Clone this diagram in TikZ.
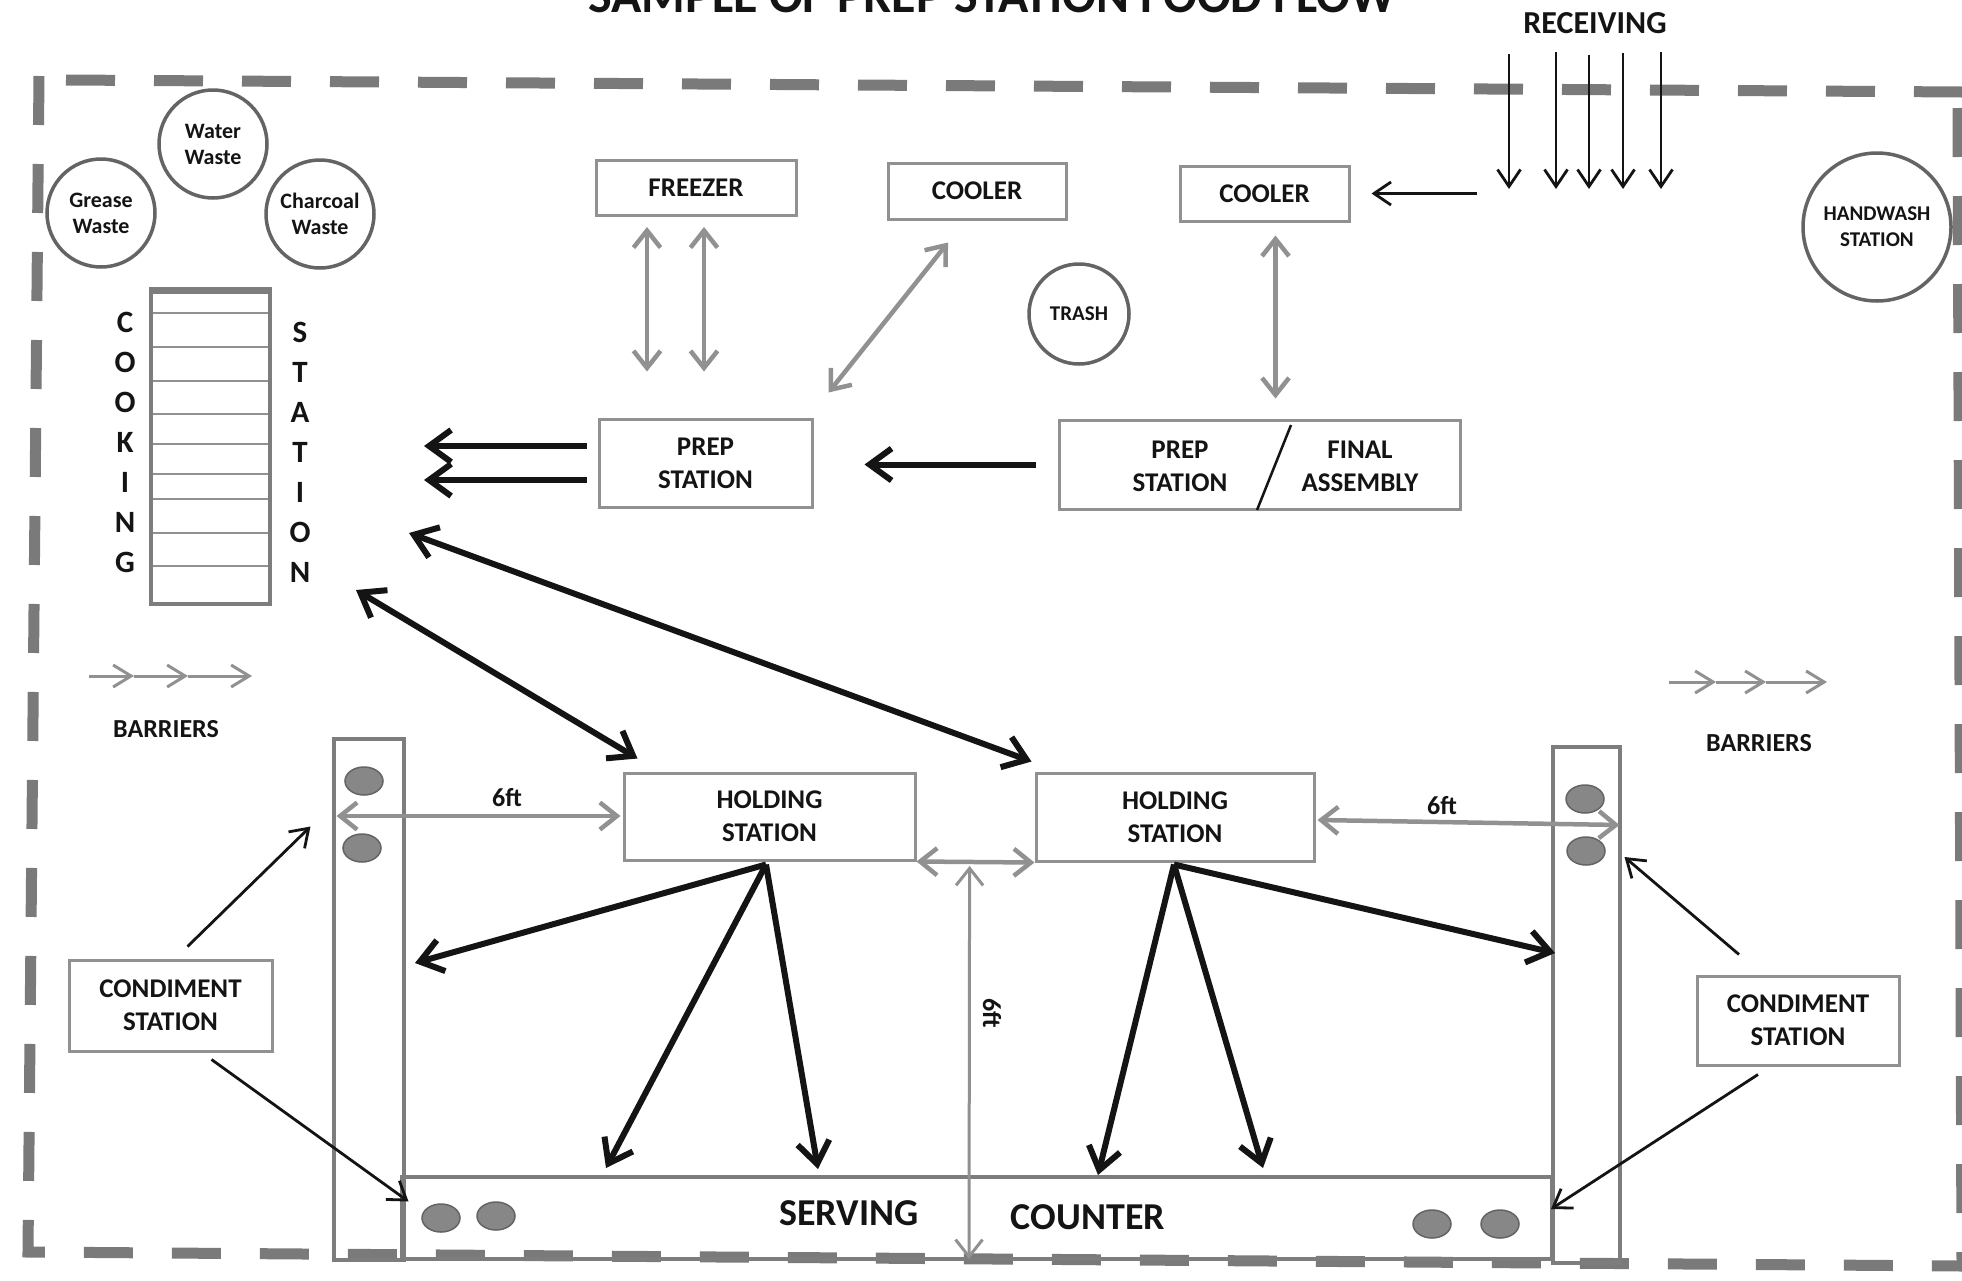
\documentclass[tikz,border=0pt]{standalone}
\usepackage{fontspec}
\setmainfont{Carlito}
\usetikzlibrary{arrows.meta,calc,shapes.geometric}
\definecolor{boxgray}{RGB}{145,145,145}
\definecolor{bargray}{RGB}{125,125,125}
\definecolor{circgray}{RGB}{100,100,100}
\definecolor{dashgray}{RGB}{122,122,122}
\definecolor{arrgray}{RGB}{145,145,145}
\definecolor{dotfill}{RGB}{135,135,135}
\definecolor{dotline}{RGB}{100,100,100}
\definecolor{ink}{RGB}{20,20,20}
\newcommand{\fz}[2]{\fontsize{#1}{#2}\selectfont\bfseries}
\begin{document}
\begin{tikzpicture}[x=1pt,y=-1pt,
  every node/.style={text=ink},
  box/.style={draw=boxgray, line width=3pt, inner sep=0pt, align=center, font=\fz{27}{33}},
  bubble/.style={draw=circgray, circle, line width=3.5pt, inner sep=0pt, align=center},
  lbl/.style={inner sep=0pt, align=center},
  border/.style={draw=dashgray, line width=11pt, dash pattern=on 49pt off 39pt},
  bar/.style={draw=bargray, line width=4pt, inner sep=0pt},
  dot/.style={ellipse, draw=dotline, fill=dotfill, line width=1.5pt, minimum width=38pt, minimum height=28pt, inner sep=0pt},
  garr/.style={draw=arrgray, line width=4.5pt, {Straight Barb[length=17pt,width=27pt]}-{Straight Barb[length=17pt,width=27pt]}},
  flow/.style={draw=ink, line width=6pt, -{Straight Barb[length=22pt,width=32pt]}},
  flowtwo/.style={draw=ink, line width=6pt, {Straight Barb[length=22pt,width=32pt]}-{Straight Barb[length=22pt,width=32pt]}},
  tarr/.style={draw=ink, line width=2.8pt, -{Straight Barb[length=17pt,width=23pt]}},
  barrier/.style={draw=arrgray, line width=3pt, -{Straight Barb[length=18pt,width=22pt]}},
]
\fill[white] (0,0) rectangle (1962,1280);
\useasboundingbox (0,0) rectangle (1962,1280);

% border
\draw[border, line join=miter] (39,76) -- (28,1252) -- (1962,1266);
\draw[border] (66,80) -- (1962,92);
\draw[border] (1958,108) -- (1962,1266);

% titles
\node[lbl, anchor=base, font=\fz{50}{50}] (title) at (992,12) {SAMPLE OF PREP STATION FOOD FLOW};
\node[lbl, anchor=base, font=\fz{32}{32}] (recv) at (1595,33) {RECEIVING};

% waste circles
\node[bubble, minimum size=108pt, font=\fz{22}{26}] (water) at (213,144) {Water\\Waste};
\node[bubble, minimum size=108pt, font=\fz{22}{26}] (grease) at (101,213) {Grease\\Waste};
\node[bubble, minimum size=108pt, font=\fz{22}{26}] (charcoal) at (320,214) {Charcoal\\Waste};
\node[bubble, minimum size=100pt, font=\fz{21}{26}] (trash) at (1079,314) {TRASH};
\node[bubble, minimum size=148pt, font=\fz{21}{26}] (hand) at (1877,227) {HANDWASH\\STATION};

% cooking station
\node[bar, minimum width=119pt, minimum height=312pt] (cook) at (210.5,448) {};
\foreach \yy in {313,347,381,414,444,474,499,533,566}
  \draw[boxgray, line width=2.5pt] (153,\yy) -- (268,\yy);
\draw[bargray, line width=6pt] (cook.north west) -- (cook.north east);
\node[lbl, font=\fz{31}{40}] (cookL) at (125,442.5) {C\\O\\O\\K\\I\\N\\G};
\node[lbl, font=\fz{31}{40}] (cookR) at (300,452.5) {S\\T\\A\\T\\I\\O\\N};

% boxes
\node[box, minimum width=200pt, minimum height=55pt] (freezer) at (696,188) {FREEZER};
\node[box, minimum width=178pt, minimum height=56pt] (cool1) at (977,191) {COOLER};
\node[box, minimum width=169pt, minimum height=55pt] (cool2) at (1264.5,193.5) {COOLER};
\node[box, minimum width=213pt, minimum height=88pt] (prep) at (705.5,463) {PREP\\STATION};
\node[box, minimum width=401pt, minimum height=89pt] (pfa) at (1259.5,464.5) {};
\node[lbl, font=\fz{27}{33}] (pfaL) at (1180,466) {PREP\\STATION};
\node[lbl, font=\fz{27}{33}] (pfaR) at (1360,466) {FINAL\\ASSEMBLY};
\draw[ink, line width=2.5pt] (1291,425) -- (1257,510);
\node[box, minimum width=291pt, minimum height=87pt] (hold1) at (769.5,816.5) {HOLDING\\STATION};
\node[box, minimum width=278pt, minimum height=88pt] (hold2) at (1175,817) {HOLDING\\STATION};
\node[box, minimum width=203pt, minimum height=91pt] (cond1) at (170.5,1005.5) {CONDIMENT\\STATION};
\node[box, minimum width=202pt, minimum height=89pt] (cond2) at (1798,1020.5) {CONDIMENT\\STATION};

% barriers and counter
\node[bar, minimum width=70pt, minimum height=521pt] (lbar) at (368.5,999.5) {};
\node[bar, minimum width=67pt, minimum height=516pt] (rbar) at (1586,1005) {};
\node[bar, minimum width=1150pt, minimum height=82pt] (counter) at (977,1218) {};
\node[lbl, font=\fz{38}{38}] (serv) at (849,1213) {SERVING};
\node[lbl, font=\fz{38}{38}] (ctr) at (1088,1217) {COUNTER};

% dots
\node[dot] (d1) at (364,781) {};
\node[dot] (d2) at (362,848) {};
\node[dot] (d3) at (1585,799) {};
\node[dot] (d4) at (1586,851) {};
\node[dot] (d5) at (441,1218) {};
\node[dot] (d6) at (496,1216) {};
\node[dot] (d7) at (1432,1224) {};
\node[dot] (d8) at (1500,1224) {};

% barrier legends
\node[lbl, font=\fz{26}{26}] (barL) at (166,729) {BARRIERS};
\node[lbl, font=\fz{26}{26}] (barR) at (1759,743) {BARRIERS};
\coordinate (bl0) at (89,676); \coordinate (bl1) at (134,676);
\coordinate (bl2) at (188,676); \coordinate (bl3) at (252,676);
\draw[barrier] (bl0) -- (bl1); \draw[barrier] (bl1) -- (bl2); \draw[barrier] (bl2) -- (bl3);
\coordinate (br0) at (1669,682); \coordinate (br1) at (1716,682);
\coordinate (br2) at (1766,682); \coordinate (br3) at (1827,682);
\draw[barrier] (br0) -- (br1); \draw[barrier] (br1) -- (br2); \draw[barrier] (br2) -- (br3);

% receiving arrows
\foreach \xx/\ys in {1509/54,1556/52,1589/55,1623/53,1661/52}
  \draw[tarr] (\xx,\ys) -- (\xx,189);
\coordinate (rin) at (1477,193.5);
\draw[tarr] (rin) -- ($(cool2.east)+(21,0)$);

% gray storage arrows
\draw[garr] ($(freezer.south)+(-49,10)$) -- ($(prep.north)+(-58.5,-46)$);
\draw[garr] ($(freezer.south)+(8,10)$) -- ($(prep.north)+(-1.5,-46)$);
\draw[garr] ($(cool1.south)+(-29,22)$) -- ($(prep.north east)+(15,-25)$);
\draw[garr] ($(cool2.south)+(11,13)$) -- ($(pfa.north)+(16,-20)$);

% black flow arrows
\draw[flow] ($(pfa.west)+(-22,0)$) -- ($(prep.east)+(51,1.5)$);
\draw[flow] ($(prep.west)+(-11,-17)$) -- ($(cook.east)+(152,-2)$);
\draw[flow] ($(prep.west)+(-11,17)$) -- ($(cook.east)+(152,32)$);
\draw[flowtwo] ($(cook.south east)+(84,-16)$) -- ($(hold1.north west)+(15,-13)$);
\draw[flowtwo] ($(cook.east)+(137,85)$) -- ($(hold2.north west)+(-3,-10)$);
\draw[flow] ($(hold1.south)+(-3.5,3)$) -- ($(lbar.east)+(9.5,-36.5)$);
\draw[flow] ($(hold1.south)+(-3.5,3)$) -- ($(counter.north)+(-371,-7)$);
\draw[flow] ($(hold1.south)+(-3.5,3)$) -- ($(counter.north)+(-159,-6)$);
\draw[flow] ($(hold2.south)+(-1,2)$) -- ($(counter.north)+(121,0)$);
\draw[flow] ($(hold2.south)+(-1,2)$) -- ($(counter.north)+(286,-7)$);
\draw[flow] ($(hold2.south)+(-1,2)$) -- ($(rbar.west)+(4.5,-52)$);

% 6ft distances
\draw[garr] ($(lbar.west)+(5,-183.5)$) -- ($(hold1.west)+(-2,-0.5)$);
\node[lbl, font=\fz{26}{26}] (ft1) at (507,798) {6ft};
\draw[garr] ($(hold2.east)+(2,3)$) -- ($(rbar.east)+(-2,-180)$);
\node[lbl, font=\fz{26}{26}] (ft2) at (1442,806) {6ft};
\draw[garr] (hold1.south east) -- (hold2.south west);
\coordinate (vtop) at ($(hold1.south east)!0.45!(hold2.south west)+(0,4)$);
\coordinate (vbot) at (969,1259);
\draw[garr, line width=3pt] (vtop) -- (vbot);
\node[lbl, font=\fz{26}{26}, rotate=-90] (ft3) at (992,1013) {6ft};

% condiment arrows
\draw[tarr] ($(cond1.north)+(17,-12)$) -- ($(lbar.west)+(-21,-173)$);
\draw[tarr] ($(cond1.south)+(41,7)$) -- ($(lbar.east)+(3,202)$);
\draw[tarr] ($(cond2.north)+(-59,-20)$) -- ($(rbar.east)+(3,-148)$);
\draw[tarr] ($(cond2.south)+(-40,8)$) -- ($(rbar.west)+(0.5,204)$);
\end{tikzpicture}
\end{document}
